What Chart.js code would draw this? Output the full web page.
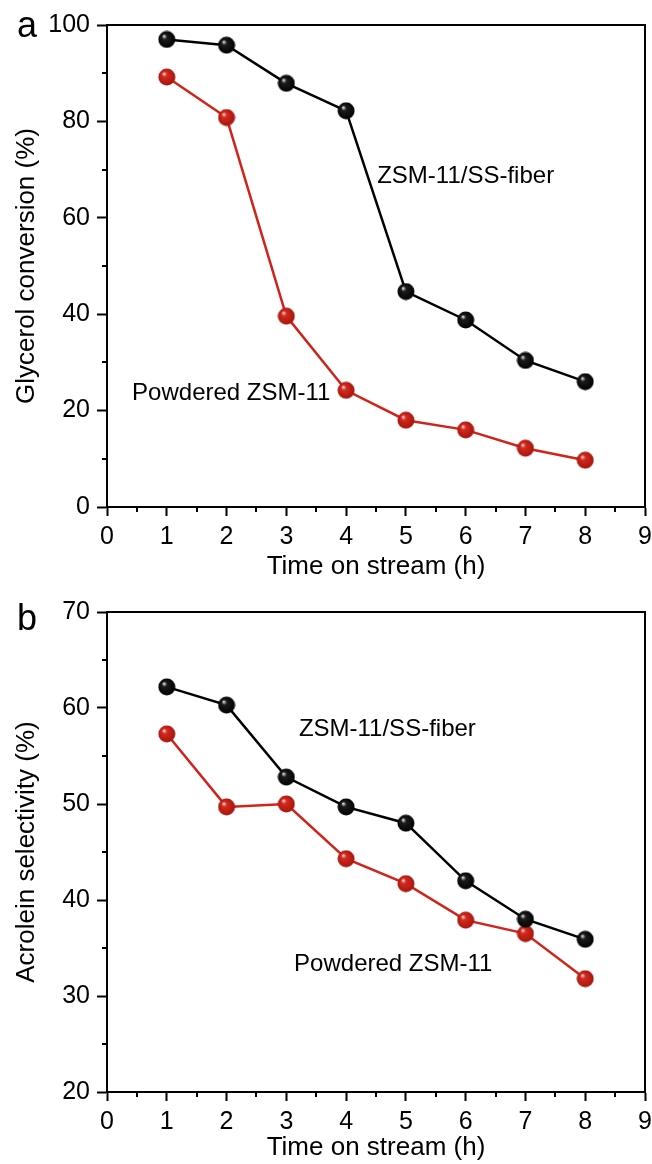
<!DOCTYPE html>
<html lang="en">
<head>
    <meta charset="UTF-8">
    <meta name="viewport" content="width=device-width, initial-scale=1.0">
    <title>Glycerol</title>
    <script src="https://cdn.jsdelivr.net/npm/chart.js"></script>
    <style>
        html, body { margin: 0; padding: 0; background: #fff; overflow: hidden; }
        canvas { position: absolute; left: 0; display: block; }
        #grafico_a { top: 0; }
        #grafico_b { top: 580px; }
    </style>
</head>
<body>
    <canvas id="grafico_a" width="652" height="580"></canvas>
    <canvas id="grafico_b" width="652" height="584"></canvas>
<script>
// dados
const horas = [1, 2, 3, 4, 5, 6, 7, 8];
const conversaoFibra = [97.0, 95.8, 87.9, 82.2, 44.7, 38.8, 30.4, 26.0];
const conversaoPo = [89.2, 80.8, 39.6, 24.2, 18.0, 16.0, 12.2, 9.7];
const seletividadeFibra = [62.2, 60.3, 52.8, 49.7, 48.0, 42.0, 38.0, 35.9];
const seletividadePo = [57.3, 49.7, 50.0, 44.3, 41.7, 37.9, 36.5, 31.8];

const ticksTempo = [0, 1, 2, 3, 4, 5, 6, 7, 8, 9];
const ticksConversao = [0, 20, 40, 60, 80, 100];
const ticksSeletividade = [20, 30, 40, 50, 60, 70];

const nomeFibra = 'ZSM-11/SS-fiber';
const nomePo = 'Powdered ZSM-11';

const FONTE = 'Arial, "Liberation Sans", sans-serif';
const VERMELHO = 'rgb(208,36,26)';

// bolinha "3D" usada como pointStyle
function esfera(brilho, cor, sombra) {
    const c = document.createElement('canvas');
    c.width = 18; c.height = 18;
    const ctx = c.getContext('2d');
    const g = ctx.createRadialGradient(6, 5.5, 0.3, 9, 9, 9);
    g.addColorStop(0, brilho);
    g.addColorStop(0.26, cor);
    g.addColorStop(1, sombra);
    ctx.fillStyle = g;
    ctx.beginPath();
    ctx.arc(9, 9, 8.5, 0, Math.PI * 2);
    ctx.fill();
    return c;
}
const bolaPreta = esfera('#e6e6e6', '#1c1c1c', '#000');
const bolaVermelha = esfera('#f7d6d2', '#d42a1f', '#a3140c');

function pontos(ys) {
    return horas.map((h, i) => ({ x: h, y: ys[i] }));
}

function meios(lista) {
    let r = [];
    for (let i = 0; i < lista.length - 1; i++) r.push((lista[i] + lista[i + 1]) / 2);
    return r;
}

// moldura, ticks menores, textos dentro do gráfico
const moldura = {
    id: 'moldura',
    afterDraw(chart, args, opts) {
        const { ctx, chartArea: a, scales } = chart;
        ctx.save();
        ctx.strokeStyle = '#000';
        ctx.lineWidth = 2;
        ctx.beginPath();
        ctx.moveTo(a.left, a.top);
        ctx.lineTo(a.right, a.top);
        ctx.lineTo(a.right, a.bottom);
        ctx.stroke();

        ctx.beginPath();
        meios(opts.ticksY).forEach(v => {
            const py = Math.round(scales.y.getPixelForValue(v));
            ctx.moveTo(a.left - 5, py);
            ctx.lineTo(a.left, py);
        });
        meios(ticksTempo).forEach(v => {
            const px = Math.round(scales.x.getPixelForValue(v));
            ctx.moveTo(px, a.bottom);
            ctx.lineTo(px, a.bottom + 5);
        });
        ctx.stroke();

        ctx.fillStyle = '#000';
        ctx.font = '24px ' + FONTE;
        ctx.textAlign = 'left';
        ctx.textBaseline = 'middle';
        opts.textos.forEach(t => {
            ctx.fillText(t.texto, scales.x.getPixelForValue(t.x), scales.y.getPixelForValue(t.y));
        });

        ctx.font = '36px ' + FONTE;
        ctx.textAlign = 'center';
        ctx.textBaseline = 'alphabetic';
        ctx.fillText(opts.letra, 27, opts.letraY);
        ctx.restore();
    }
};

function criarGrafico(id, dadosFibra, dadosPo, ticksY, tituloY, cfg) {
    const config = {
        type: 'line',
        data: {
            datasets: [
                {
                    label: nomeFibra,
                    data: pontos(dadosFibra),
                    borderColor: '#000',
                    borderWidth: 2.5,
                    pointStyle: bolaPreta,
                    pointRadius: 9,
                    fill: false
                },
                {
                    label: nomePo,
                    data: pontos(dadosPo),
                    borderColor: VERMELHO,
                    borderWidth: 2.5,
                    pointStyle: bolaVermelha,
                    pointRadius: 9,
                    fill: false
                }
            ]
        },
        options: {
            responsive: false,
            animation: false,
            layout: { autoPadding: false, padding: { left: 0, right: 7, top: cfg.topo, bottom: 0 } },
            plugins: {
                legend: { display: false },
                tooltip: { enabled: false },
                moldura: { ticksY: ticksY, textos: cfg.textos, letra: cfg.letra, letraY: cfg.letraY }
            },
            scales: {
                x: {
                    type: 'linear',
                    min: 0,
                    max: 9,
                    afterBuildTicks: s => { s.ticks = ticksTempo.map(v => ({ value: v })); },
                    afterFit: s => {
                        s.height = cfg.alturaX;
                        s.paddingLeft = 0;
                        s.paddingRight = 0;
                    },
                    border: { display: true, color: '#000', width: 2 },
                    grid: { drawOnChartArea: false, drawTicks: true, tickLength: 9, tickWidth: 2, tickColor: '#000' },
                    ticks: { autoSkip: false, maxRotation: 0, padding: 6, color: '#000', font: { family: FONTE, size: 25 } },
                    title: {
                        display: true,
                        text: 'Time on stream (h)',
                        color: '#000',
                        font: { family: FONTE, size: 26, lineHeight: 1 },
                        padding: { top: 0, bottom: cfg.padTituloX }
                    }
                },
                y: {
                    type: 'linear',
                    min: ticksY[0],
                    max: ticksY[ticksY.length - 1],
                    afterBuildTicks: s => { s.ticks = ticksY.map(v => ({ value: v })); },
                    afterFit: s => { s.width = 107; },
                    border: { display: true, color: '#000', width: 2 },
                    grid: { drawOnChartArea: false, drawTicks: true, tickLength: 10, tickWidth: 2, tickColor: '#000' },
                    ticks: { padding: 7, color: '#000', font: { family: FONTE, size: 25 } },
                    title: {
                        display: true,
                        text: tituloY,
                        color: '#000',
                        font: { family: FONTE, size: 26, lineHeight: 1 },
                        padding: { top: 14, bottom: 0 }
                    }
                }
            }
        },
        plugins: [moldura]
    };
    return new Chart(document.getElementById(id), config);
}

criarGrafico('grafico_a', conversaoFibra, conversaoPo, ticksConversao, 'Glycerol conversion (%)', {
    topo: 25,
    alturaX: 73,
    padTituloX: 0,
    letra: 'a',
    letraY: 37,
    textos: [
        { texto: nomeFibra, x: 4.52, y: 68.5 },
        { texto: nomePo, x: 0.42, y: 23.6 }
    ]
});

criarGrafico('grafico_b', seletividadeFibra, seletividadePo, ticksSeletividade, 'Acrolein selectivity (%)', {
    topo: 32,
    alturaX: 72,
    padTituloX: 3,
    letra: 'b',
    letraY: 50,
    textos: [
        { texto: nomeFibra, x: 3.21, y: 57.8 },
        { texto: nomePo, x: 3.13, y: 33.3 }
    ]
});
</script>
</body>
</html>
